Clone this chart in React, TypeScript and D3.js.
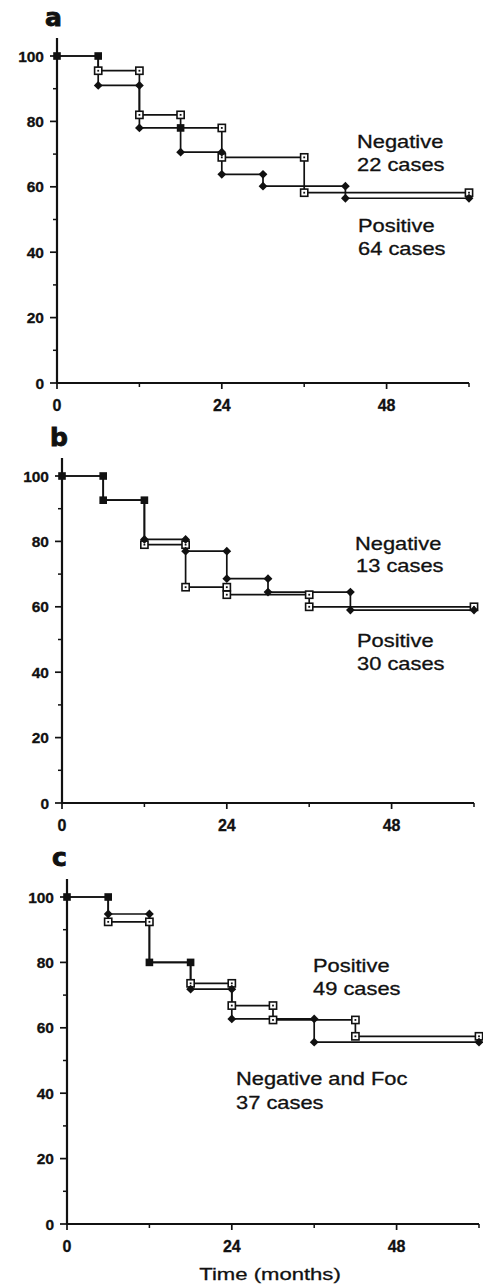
import React from 'react';
import * as d3 from 'd3';

// ---- data ----
const xMajorTicks = [0, 24, 48];
const xMinorTicks = [12, 36, 60];
const yMajorTicks = [0, 20, 40, 60, 80, 100];
const yMinorTicks = [10, 30, 50, 70, 90];

const aSquareTimes = [0, 6, 12, 18, 24, 36, 60];
const aSquareValues = [100, 95.5, 82, 78, 69, 58.2, 58.2];
const aDiamondTimes = [0, 6, 12, 18, 24, 30, 42, 60];
const aDiamondValues = [100, 91, 78, 70.6, 63.8, 60.2, 56.5, 56.5];

const bSquareTimes = [0, 6, 12, 18, 24, 36, 60];
const bSquareValues = [100, 92.6, 79, 66, 63.7, 60, 60];
const bDiamondTimes = [0, 6, 12, 18, 24, 30, 42, 60];
const bDiamondValues = [100, 92.6, 80.6, 77, 68.6, 64.5, 59, 59];

const cSquareTimes = [0, 6, 12, 18, 24, 30, 42, 60];
const cSquareValues = [100, 92.4, 80, 73.6, 66.8, 62.4, 57.4, 57.4];
const cDiamondTimes = [0, 6, 12, 18, 24, 36, 60];
const cDiamondValues = [100, 94.8, 80, 71.8, 62.7, 55.6, 55.6];

const aLabels = ['Negative', '22 cases', 'Positive', '64 cases'];
const bLabels = ['Negative', '13 cases', 'Positive', '30 cases'];
const cLabels = ['Positive', '49 cases', 'Negative and Foc', '37 cases'];
const panelLetters = ['a', 'b', 'c'];
const xAxisTitle = 'Time (months)';

// ---- layout ----
const W = 483;
const H = 1285;
const PLOT_W = 412;
const PLOT_H = 327;

const panels = [
  {
    letter: panelLetters[0], x0: 57, y100: 56, letterX: 45, letterY: 26,
    sq: [aSquareTimes, aSquareValues], di: [aDiamondTimes, aDiamondValues],
    labels: aLabels,
    labelPos: [[357, 148], [357, 170.5], [358, 232], [358, 254.5]],
  },
  {
    letter: panelLetters[1], x0: 62, y100: 476, letterX: 50, letterY: 446,
    sq: [bSquareTimes, bSquareValues], di: [bDiamondTimes, bDiamondValues],
    labels: bLabels,
    labelPos: [[355, 550], [356, 572], [357, 647], [357, 670]],
  },
  {
    letter: panelLetters[2], x0: 67, y100: 897, letterX: 52, letterY: 866,
    sq: [cSquareTimes, cSquareValues], di: [cDiamondTimes, cDiamondValues],
    labels: cLabels,
    labelPos: [[313, 972], [313, 995], [236, 1085], [236, 1108.5]],
  },
];

const INK = '#111';
const LABEL_SCALE = 1.25;

function markerPoints(times: number[], values: number[]) {
  const pts: [number, number][] = [[times[0], values[0]]];
  for (let i = 1; i < times.length; i++) {
    if (values[i - 1] !== values[i] || i === times.length - 1) {
      pts.push([times[i], values[i - 1]]);
    }
    if (values[i - 1] !== values[i]) pts.push([times[i], values[i]]);
  }
  return pts;
}

function Panel({ p }: { p: any }) {
  const x = d3.scaleLinear().domain([0, 60]).range([p.x0, p.x0 + PLOT_W]);
  const y = d3.scaleLinear().domain([0, 100]).range([p.y100 + PLOT_H, p.y100]);
  const line = d3
    .line<[number, number]>()
    .x((d) => x(d[0]))
    .y((d) => y(d[1]))
    .curve(d3.curveStepAfter);

  const sqData: [number, number][] = p.sq[0].map((t: number, i: number) => [t, p.sq[1][i]]);
  const diData: [number, number][] = p.di[0].map((t: number, i: number) => [t, p.di[1][i]]);
  const sqPts = markerPoints(p.sq[0], p.sq[1]);
  const diPts = markerPoints(p.di[0], p.di[1]);
  const isShared = (pt: [number, number]) =>
    sqPts.some((q) => q[0] === pt[0] && Math.abs(q[1] - pt[1]) < 0.8) &&
    diPts.some((q) => q[0] === pt[0] && Math.abs(q[1] - pt[1]) < 0.8);

  const S = 7.2;
  const D = 4.4;
  return (
    <g>
      <text x={p.letterX} y={p.letterY} fontFamily="DejaVu Sans" fontWeight="bold" fontSize={25} fill={INK} stroke={INK} strokeWidth={0.9}>
        {p.letter}
      </text>
      {/* axes */}
      <line x1={x(0)} x2={x(0)} y1={y(0)} y2={y(105.5)} stroke={INK} strokeWidth={2.2} />
      <line x1={x(0) - 1} x2={x(60)} y1={y(0)} y2={y(0)} stroke={INK} strokeWidth={2.2} />
      {yMajorTicks.map((t) => (
        <g key={'ym' + t}>
          <line x1={x(0) - 7} x2={x(0)} y1={y(t)} y2={y(t)} stroke={INK} strokeWidth={1.7} />
          <text x={x(0) - 13} y={y(t) + 5.5} textAnchor="end" fontFamily="Liberation Sans, Arial, sans-serif" fontWeight="bold" fontSize={15.5} fill={INK} stroke={INK} strokeWidth={0.3}>
            {t}
          </text>
        </g>
      ))}
      {yMinorTicks.map((t) => (
        <line key={'yn' + t} x1={x(0) - 4} x2={x(0)} y1={y(t)} y2={y(t)} stroke={INK} strokeWidth={1.5} />
      ))}
      {xMajorTicks.map((t) => (
        <g key={'xm' + t}>
          <line x1={x(t)} x2={x(t)} y1={y(0)} y2={y(0) + 6} stroke={INK} strokeWidth={1.7} />
          <text x={x(t)} y={y(0) + 28} textAnchor="middle" fontFamily="Liberation Sans, Arial, sans-serif" fontWeight="bold" fontSize={16} fill={INK} stroke={INK} strokeWidth={0.3}>
            {t}
          </text>
        </g>
      ))}
      {xMinorTicks.map((t) => (
        <line key={'xn' + t} x1={x(t)} x2={x(t)} y1={y(0)} y2={y(0) + 4} stroke={INK} strokeWidth={1.5} />
      ))}
      {/* curves */}
      <path d={line(sqData) || ''} fill="none" stroke={INK} strokeWidth={1.7} />
      <path d={line(diData) || ''} fill="none" stroke={INK} strokeWidth={1.7} />
      {sqPts.filter((pt) => !isShared(pt)).map((pt, i) => (
        <g key={'s' + i}>
          <rect x={x(pt[0]) - S / 2} y={y(pt[1]) - S / 2} width={S} height={S} fill="#fff" stroke={INK} strokeWidth={1.6} />
          <rect x={x(pt[0]) - 0.9} y={y(pt[1]) - 0.9} width={1.8} height={1.8} fill={INK} />
        </g>
      ))}
      {diPts.filter((pt) => !isShared(pt)).map((pt, i) => (
        <path key={'d' + i} d={`M${x(pt[0])},${y(pt[1]) - D}L${x(pt[0]) + D},${y(pt[1])}L${x(pt[0])},${y(pt[1]) + D}L${x(pt[0]) - D},${y(pt[1])}Z`} fill={INK} />
      ))}
      {sqPts.filter((pt) => isShared(pt)).map((pt, i) => (
        <rect key={'f' + i} x={x(pt[0]) - 3.8} y={y(pt[1]) - 3.8} width={7.6} height={7.6} fill={INK} />
      ))}
      {/* labels */}
      {p.labels.map((s: string, i: number) => (
        <text
          key={'l' + i}
          transform={`translate(${p.labelPos[i][0]},${p.labelPos[i][1]}) scale(${LABEL_SCALE},1)`}
          fontFamily="Liberation Sans, Arial, sans-serif"
          fontSize={17.5}
          fill={INK}
          stroke={INK}
          strokeWidth={0.3}
        >
          {s}
        </text>
      ))}
    </g>
  );
}

export default function App() {
  return (
    <svg width={W} height={H} style={{ position: 'absolute', left: 0, top: 0, background: '#fff' }}>
      <rect x={0} y={0} width={W} height={H} fill="#fff" />
      {panels.map((p) => (
        <Panel key={p.letter} p={p} />
      ))}
      <text
        transform={`translate(270,1280) scale(1.3,1)`}
        textAnchor="middle"
        fontFamily="Liberation Sans, Arial, sans-serif"
        fontSize={17}
        fill={INK}
        stroke={INK}
        strokeWidth={0.3}
      >
        {xAxisTitle}
      </text>
    </svg>
  );
}
